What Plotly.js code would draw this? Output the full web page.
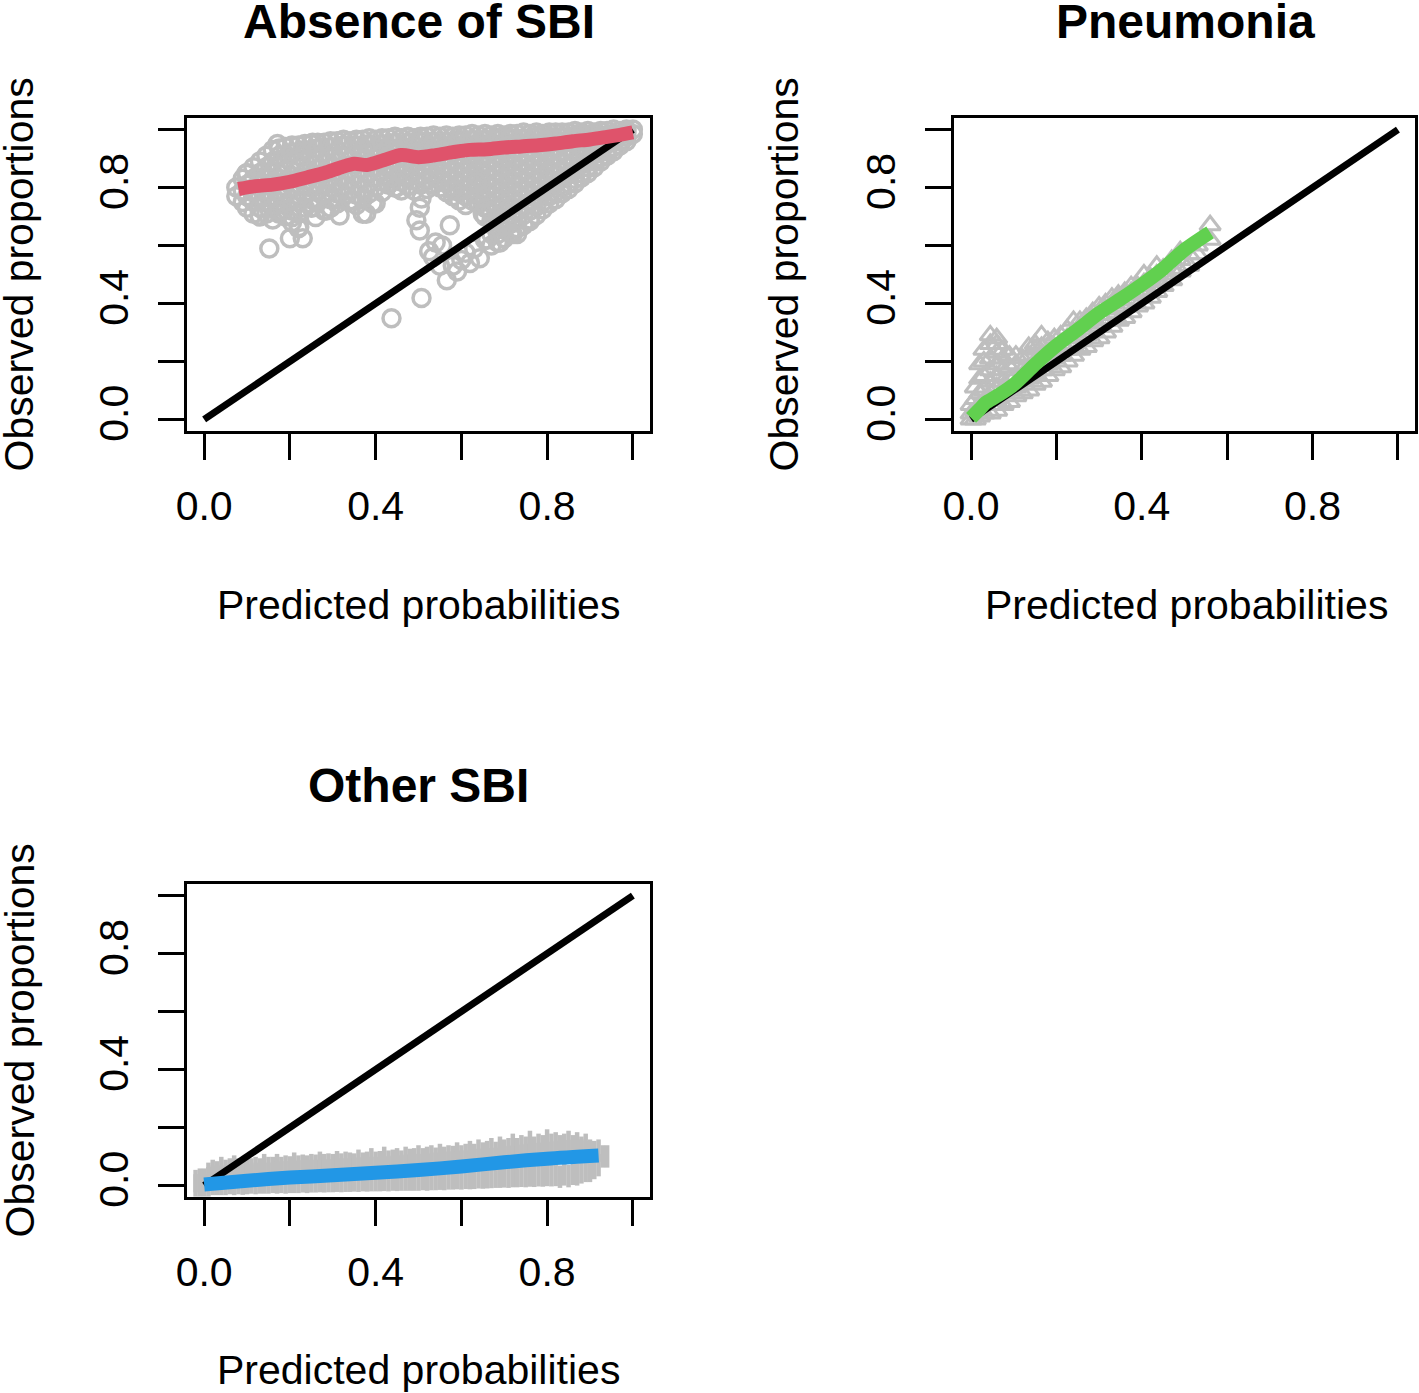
<!DOCTYPE html>
<html>
<head>
<meta charset="utf-8">
<script src="https://cdn.plot.ly/plotly-3.0.1.min.js"></script>
<style>
  html, body { margin: 0; padding: 0; background: #fff; }
  #chart { width: 1419px; height: 1393px; }
</style>
</head>
<body>
<div id="chart"></div>
<script>
// calibration plots: gray = per-sample points, colored = smoothed calibration curve

const TICK_VALS = [0, 0.2, 0.4, 0.6, 0.8, 1.0];
const TICK_TEXT = ['0.0', '', '0.4', '', '0.8', ''];
const DIAG_X = [0, 1];
const DIAG_Y = [0, 1];

// Absence of SBI: gray circles grouped by predicted probability column
const absenceCols = [
  [0.075, [0.80, 0.77]],
  [0.09, [0.83, 0.79, 0.75]],
  [0.10, [0.85, 0.81, 0.77, 0.73]],
  [0.115, [0.87, 0.83, 0.79, 0.75, 0.71]],
  [0.13, [0.89, 0.85, 0.81, 0.77, 0.73, 0.70]],
  [0.145, [0.91, 0.87, 0.83, 0.79, 0.75, 0.71]],
  [0.16, [0.93, 0.89, 0.85, 0.81, 0.77, 0.73, 0.69]],
  [0.175, [0.935, 0.91, 0.87, 0.83, 0.79, 0.75, 0.71]],
  [0.19, [0.94, 0.90, 0.86, 0.82, 0.78, 0.74, 0.70]],
  [0.205, [0.945, 0.92, 0.88, 0.84, 0.80, 0.76, 0.72, 0.68]],
  [0.22, [0.945, 0.91, 0.87, 0.83, 0.79, 0.75, 0.71, 0.66]],
  [0.235, [0.95, 0.93, 0.89, 0.85, 0.81, 0.77, 0.73]],
  [0.25, [0.95, 0.915, 0.88, 0.84, 0.80, 0.76, 0.73]],
  [0.265, [0.955, 0.935, 0.90, 0.865, 0.83, 0.79, 0.75]],
  [0.28, [0.955, 0.92, 0.885, 0.85, 0.81, 0.77, 0.72]],
  [0.295, [0.96, 0.94, 0.905, 0.87, 0.835, 0.80, 0.76, 0.73]],
  [0.31, [0.96, 0.925, 0.89, 0.855, 0.82, 0.78, 0.745]],
  [0.325, [0.965, 0.945, 0.91, 0.875, 0.84, 0.805, 0.77]],
  [0.34, [0.96, 0.93, 0.895, 0.86, 0.825, 0.79, 0.755]],
  [0.355, [0.965, 0.945, 0.915, 0.88, 0.845, 0.81, 0.775, 0.74]],
  [0.37, [0.965, 0.935, 0.90, 0.865, 0.83, 0.795, 0.76, 0.71]],
  [0.385, [0.97, 0.95, 0.92, 0.885, 0.85, 0.815, 0.78]],
  [0.40, [0.965, 0.935, 0.905, 0.87, 0.835, 0.80, 0.745]],
  [0.415, [0.97, 0.95, 0.92, 0.89, 0.855, 0.82, 0.785]],
  [0.43, [0.97, 0.94, 0.91, 0.875, 0.84, 0.81]],
  [0.445, [0.975, 0.955, 0.925, 0.895, 0.86, 0.83, 0.80]],
  [0.46, [0.97, 0.94, 0.91, 0.88, 0.85, 0.82, 0.79]],
  [0.475, [0.975, 0.955, 0.925, 0.895, 0.865, 0.835, 0.805]],
  [0.49, [0.97, 0.945, 0.915, 0.885, 0.855, 0.825, 0.79]],
  [0.505, [0.975, 0.96, 0.93, 0.90, 0.87, 0.84, 0.81]],
  [0.52, [0.975, 0.945, 0.915, 0.885, 0.855, 0.825, 0.795]],
  [0.535, [0.98, 0.96, 0.93, 0.90, 0.87, 0.84, 0.81]],
  [0.55, [0.975, 0.95, 0.92, 0.89, 0.86, 0.83, 0.80]],
  [0.565, [0.98, 0.96, 0.935, 0.905, 0.875, 0.845, 0.815, 0.785]],
  [0.58, [0.975, 0.95, 0.92, 0.89, 0.86, 0.83, 0.80, 0.77]],
  [0.595, [0.98, 0.965, 0.935, 0.905, 0.875, 0.845, 0.815, 0.785, 0.755]],
  [0.61, [0.98, 0.95, 0.92, 0.89, 0.86, 0.83, 0.80, 0.77, 0.74]],
  [0.625, [0.985, 0.965, 0.935, 0.905, 0.875, 0.845, 0.815, 0.785, 0.755]],
  [0.64, [0.98, 0.955, 0.925, 0.895, 0.865, 0.835, 0.805, 0.775, 0.745]],
  [0.655, [0.985, 0.965, 0.94, 0.91, 0.88, 0.85, 0.82, 0.79, 0.76, 0.73, 0.70, 0.62]],
  [0.67, [0.98, 0.955, 0.925, 0.895, 0.865, 0.835, 0.805, 0.775, 0.745, 0.715, 0.685, 0.64, 0.60]],
  [0.685, [0.985, 0.97, 0.94, 0.91, 0.88, 0.85, 0.82, 0.79, 0.76, 0.73, 0.70, 0.67, 0.64, 0.61]],
  [0.70, [0.98, 0.955, 0.925, 0.895, 0.865, 0.835, 0.805, 0.775, 0.745, 0.715, 0.685, 0.655, 0.625]],
  [0.715, [0.985, 0.97, 0.945, 0.915, 0.885, 0.855, 0.825, 0.795, 0.765, 0.735, 0.705, 0.675, 0.645]],
  [0.73, [0.985, 0.96, 0.93, 0.90, 0.87, 0.84, 0.81, 0.78, 0.75, 0.72, 0.69, 0.66, 0.64]],
  [0.745, [0.99, 0.97, 0.945, 0.915, 0.885, 0.855, 0.825, 0.795, 0.765, 0.735, 0.705, 0.67]],
  [0.76, [0.985, 0.96, 0.93, 0.90, 0.87, 0.84, 0.81, 0.78, 0.75, 0.72, 0.685]],
  [0.775, [0.99, 0.975, 0.945, 0.915, 0.885, 0.855, 0.825, 0.795, 0.765, 0.735, 0.705]],
  [0.79, [0.985, 0.96, 0.93, 0.90, 0.87, 0.84, 0.81, 0.78, 0.75, 0.725]],
  [0.805, [0.99, 0.975, 0.95, 0.92, 0.89, 0.86, 0.83, 0.80, 0.77, 0.745]],
  [0.82, [0.99, 0.965, 0.935, 0.905, 0.875, 0.845, 0.815, 0.785, 0.76]],
  [0.835, [0.99, 0.975, 0.95, 0.92, 0.89, 0.86, 0.83, 0.80, 0.78]],
  [0.85, [0.99, 0.965, 0.935, 0.905, 0.875, 0.845, 0.815, 0.795]],
  [0.865, [0.995, 0.98, 0.95, 0.92, 0.89, 0.86, 0.83, 0.815]],
  [0.88, [0.99, 0.97, 0.94, 0.91, 0.88, 0.85, 0.835]],
  [0.895, [0.995, 0.98, 0.955, 0.925, 0.895, 0.87, 0.85]],
  [0.91, [0.99, 0.97, 0.945, 0.915, 0.89, 0.87]],
  [0.925, [0.995, 0.98, 0.96, 0.93, 0.905, 0.89]],
  [0.94, [0.995, 0.975, 0.95, 0.925, 0.91]],
  [0.955, [1.0, 0.985, 0.965, 0.94, 0.925]],
  [0.97, [0.995, 0.98, 0.96, 0.945]],
  [0.985, [1.0, 0.99, 0.975, 0.96]],
  [1.00, [1.0, 0.985]],
];
const absenceStrayX = [0.437, 0.507, 0.152, 0.566, 0.59, 0.62, 0.643, 0.69, 0.72, 0.76, 0.495, 0.503, 0.573, 0.54, 0.534,
  0.507, 0.503, 0.659, 0.667, 0.65, 0.58, 0.636, 0.129, 0.2, 0.23, 0.222, 0.26, 0.316, 0.378, 0.393, 0.347, 0.175, 0.206,
  0.253, 0.285, 0.448, 0.171, 0.253, 0.098, 0.60, 0.61, 0.58, 0.55, 0.63, 0.66, 0.555, 0.525];
const absenceStrayY = [0.349, 0.419, 0.59, 0.48, 0.51, 0.54, 0.556, 0.61, 0.64, 0.69, 0.687, 0.652, 0.67, 0.61, 0.56,
  0.762, 0.73, 0.73, 0.72, 0.71, 0.79, 0.818, 0.704, 0.625, 0.625, 0.664, 0.698, 0.704, 0.71, 0.745, 0.755, 0.72, 0.698,
  0.732, 0.721, 0.80, 0.95, 0.955, 0.848, 0.55, 0.575, 0.53, 0.53, 0.59, 0.62, 0.60, 0.58];
const absenceCurveX = [0.08, 0.12, 0.16, 0.20, 0.24, 0.28, 0.32, 0.35, 0.38, 0.42, 0.46, 0.50, 0.54, 0.58, 0.62, 0.66, 0.70, 0.74, 0.78, 0.82, 0.86, 0.90, 0.94, 0.97, 1.00];
const absenceCurveY = [0.795, 0.805, 0.81, 0.82, 0.835, 0.85, 0.87, 0.882, 0.878, 0.895, 0.912, 0.905, 0.912, 0.922, 0.93, 0.932, 0.938, 0.942, 0.946, 0.952, 0.96, 0.966, 0.975, 0.982, 0.99];

// Pneumonia: gray triangles
const pneuCols = [
  [0.0, [0.0, 0.02, 0.05]],
  [0.01, [0.0, 0.03, 0.07, 0.11]],
  [0.02, [0.01, 0.05, 0.09, 0.14, 0.19]],
  [0.03, [0.02, 0.06, 0.10, 0.15, 0.20, 0.24]],
  [0.045, [0.02, 0.05, 0.09, 0.13, 0.17, 0.21, 0.26, 0.29]],
  [0.06, [0.03, 0.07, 0.11, 0.15, 0.19, 0.23, 0.26, 0.28]],
  [0.075, [0.05, 0.09, 0.13, 0.17, 0.21, 0.24]],
  [0.09, [0.06, 0.10, 0.14, 0.18, 0.22]],
  [0.105, [0.08, 0.11, 0.15, 0.19, 0.22]],
  [0.12, [0.09, 0.13, 0.17, 0.21]],
  [0.135, [0.10, 0.14, 0.18, 0.22, 0.25]],
  [0.15, [0.12, 0.16, 0.20, 0.24, 0.26]],
  [0.165, [0.13, 0.17, 0.21, 0.25, 0.29]],
  [0.18, [0.15, 0.19, 0.23, 0.27]],
  [0.195, [0.17, 0.21, 0.25, 0.28]],
  [0.21, [0.18, 0.22, 0.26, 0.29]],
  [0.225, [0.20, 0.24, 0.28, 0.31]],
  [0.24, [0.22, 0.26, 0.30, 0.34]],
  [0.255, [0.24, 0.28, 0.32, 0.34]],
  [0.27, [0.25, 0.29, 0.33, 0.35]],
  [0.285, [0.27, 0.31, 0.35, 0.37]],
  [0.30, [0.28, 0.32, 0.36, 0.39]],
  [0.315, [0.30, 0.34, 0.38, 0.40]],
  [0.33, [0.32, 0.36, 0.40, 0.42]],
  [0.345, [0.34, 0.38, 0.42, 0.43]],
  [0.36, [0.35, 0.39, 0.43, 0.44]],
  [0.375, [0.37, 0.41, 0.44, 0.46]],
  [0.39, [0.39, 0.43, 0.46]],
  [0.405, [0.40, 0.44, 0.47, 0.50]],
  [0.42, [0.42, 0.46, 0.49]],
  [0.435, [0.44, 0.48, 0.50, 0.53]],
  [0.45, [0.46, 0.50, 0.52]],
  [0.47, [0.48, 0.52, 0.55]],
  [0.49, [0.51, 0.55, 0.58]],
  [0.51, [0.53, 0.57]],
  [0.53, [0.57, 0.60]],
  [0.56, [0.62, 0.67]],
];
const pneuCurveX = [0.0, 0.02, 0.035, 0.06, 0.10, 0.15, 0.20, 0.25, 0.30, 0.35, 0.40, 0.45, 0.50, 0.56];
const pneuCurveY = [0.005, 0.035, 0.058, 0.08, 0.12, 0.19, 0.255, 0.31, 0.367, 0.415, 0.465, 0.52, 0.585, 0.645];

// Other SBI: gray vertical marks
const otherCols = [
  [-0.02, [0.0, 0.015]], [-0.01, [0.0, 0.02]],
  [0.00, [0.0, 0.02]], [0.01, [0.0, 0.025, 0.04]], [0.02, [0.005, 0.03, 0.05]], [0.03, [0.005, 0.03, 0.045]],
  [0.04, [0.005, 0.03, 0.06]], [0.05, [0.005, 0.03, 0.05]], [0.06, [0.008, 0.035, 0.055]], [0.07, [0.005, 0.03, 0.065]],
  [0.08, [0.008, 0.035, 0.055]], [0.09, [0.006, 0.035, 0.05]], [0.10, [0.008, 0.035, 0.06]], [0.11, [0.01, 0.035, 0.055]],
  [0.12, [0.008, 0.04, 0.06]], [0.13, [0.01, 0.04, 0.055]], [0.14, [0.01, 0.04, 0.07]], [0.15, [0.01, 0.04, 0.06]],
  [0.16, [0.012, 0.04, 0.06]], [0.17, [0.01, 0.045, 0.07]], [0.18, [0.012, 0.045, 0.06]], [0.19, [0.01, 0.045, 0.065]],
  [0.20, [0.012, 0.045, 0.062]], [0.21, [0.012, 0.045, 0.075]], [0.22, [0.012, 0.048, 0.065]], [0.23, [0.014, 0.048, 0.068]],
  [0.24, [0.012, 0.048, 0.065]], [0.25, [0.014, 0.05, 0.07]], [0.26, [0.014, 0.05, 0.068]], [0.27, [0.015, 0.05, 0.078]],
  [0.28, [0.014, 0.05, 0.07]], [0.29, [0.015, 0.052, 0.072]], [0.30, [0.015, 0.052, 0.07]], [0.31, [0.016, 0.052, 0.08]],
  [0.32, [0.015, 0.055, 0.072]], [0.33, [0.016, 0.055, 0.078]], [0.34, [0.016, 0.055, 0.075]], [0.35, [0.017, 0.055, 0.072]],
  [0.36, [0.016, 0.058, 0.085]], [0.37, [0.018, 0.058, 0.075]], [0.38, [0.017, 0.058, 0.078]], [0.39, [0.018, 0.06, 0.09]],
  [0.40, [0.018, 0.06, 0.078]], [0.41, [0.018, 0.06, 0.08]], [0.42, [0.019, 0.062, 0.095]], [0.43, [0.018, 0.062, 0.082]],
  [0.44, [0.02, 0.065, 0.085]], [0.45, [0.019, 0.065, 0.09]], [0.46, [0.02, 0.065, 0.082]], [0.47, [0.02, 0.068, 0.095]],
  [0.48, [0.02, 0.068, 0.088]], [0.49, [0.02, 0.07, 0.09]], [0.50, [0.02, 0.07, 0.10]], [0.51, [0.022, 0.07, 0.09]],
  [0.52, [0.02, 0.072, 0.095]], [0.53, [0.022, 0.072, 0.10]], [0.54, [0.022, 0.075, 0.092]], [0.55, [0.023, 0.075, 0.105]],
  [0.56, [0.022, 0.078, 0.095]], [0.57, [0.024, 0.078, 0.10]], [0.58, [0.024, 0.08, 0.098]], [0.59, [0.025, 0.08, 0.11]],
  [0.60, [0.024, 0.082, 0.10]], [0.61, [0.026, 0.082, 0.105]], [0.62, [0.025, 0.085, 0.115]], [0.63, [0.026, 0.085, 0.105]],
  [0.64, [0.028, 0.088, 0.12]], [0.65, [0.027, 0.088, 0.11]], [0.66, [0.028, 0.09, 0.115]], [0.67, [0.029, 0.09, 0.125]],
  [0.68, [0.03, 0.092, 0.112]], [0.69, [0.03, 0.095, 0.13]], [0.70, [0.031, 0.095, 0.12]], [0.71, [0.03, 0.098, 0.125]],
  [0.72, [0.032, 0.10, 0.14]], [0.73, [0.032, 0.10, 0.125]], [0.74, [0.033, 0.102, 0.135]], [0.75, [0.032, 0.105, 0.13]],
  [0.76, [0.034, 0.105, 0.15]], [0.77, [0.033, 0.108, 0.13]], [0.78, [0.035, 0.108, 0.14]], [0.79, [0.034, 0.11, 0.135]],
  [0.80, [0.036, 0.112, 0.155]], [0.81, [0.035, 0.112, 0.14]], [0.82, [0.036, 0.115, 0.145]], [0.83, [0.03, 0.115, 0.135]],
  [0.84, [0.038, 0.118, 0.14]], [0.85, [0.032, 0.118, 0.15]], [0.86, [0.04, 0.12, 0.135]], [0.87, [0.038, 0.12, 0.145]],
  [0.88, [0.045, 0.12, 0.13]], [0.89, [0.05, 0.115, 0.14]], [0.90, [0.05, 0.12]], [0.91, [0.06, 0.115]],
  [0.92, [0.07, 0.12]], [0.93, [0.10]], [0.94, [0.10]],
];
const otherCurveX = [0.0, 0.1, 0.2, 0.3, 0.4, 0.5, 0.6, 0.7, 0.8, 0.92];
const otherCurveY = [0.003, 0.016, 0.027, 0.035, 0.044, 0.053, 0.065, 0.08, 0.092, 0.103];

const GRAY = '#BEBEBE';
const FONT = '"Liberation Sans", Arial, Helvetica, sans-serif';
const W = 1419, H = 1393;

function flatten(cols) {
  const xs = [], ys = [];
  cols.forEach(([x, list]) => list.forEach(y => { xs.push(x); ys.push(y); }));
  return { xs, ys };
}

function panelTraces(n, cloudX, cloudY, symbol, size, lw, curveX, curveY, color) {
  const xa = n === 1 ? 'x' : 'x' + n;
  const ya = n === 1 ? 'y' : 'y' + n;
  return [
    { x: cloudX, y: cloudY, xaxis: xa, yaxis: ya, type: 'scatter', mode: 'markers',
      marker: { symbol, size, color: GRAY, line: { color: GRAY, width: lw } }, hoverinfo: 'skip' },
    { x: DIAG_X, y: DIAG_Y, xaxis: xa, yaxis: ya, type: 'scatter', mode: 'lines',
      line: { color: '#000', width: 7 }, hoverinfo: 'skip' },
    { x: curveX, y: curveY, xaxis: xa, yaxis: ya, type: 'scatter', mode: 'lines',
      line: { color, width: 14, shape: 'spline', smoothing: 0.8 }, hoverinfo: 'skip' },
  ];
}

const abs = flatten(absenceCols);
const pneu = flatten(pneuCols);
const oth = flatten(otherCols);

const traces = [
  ...panelTraces(1, abs.xs.concat(absenceStrayX), abs.ys.concat(absenceStrayY), 'circle-open', 17, 3.5, absenceCurveX, absenceCurveY, '#DF536B'),
  ...panelTraces(2, pneu.xs, pneu.ys, 'triangle-up-open', 18, 3, pneuCurveX, pneuCurveY, '#61D04F'),
  ...panelTraces(3, oth.xs, oth.ys, 'line-ns-open', 16, 4.5, otherCurveX, otherCurveY, '#2297E6'),
];

// pixel box -> paper domain
const dx = (l, r) => [l / W, r / W];
const dy = (t, b) => [1 - b / H, 1 - t / H];

function axX(domain, anchor) {
  return {
    domain, anchor, range: [-0.04, 1.04], tickmode: 'array', tickvals: TICK_VALS, ticktext: TICK_TEXT,
    ticks: 'outside', ticklen: 26, tickwidth: 3, tickcolor: '#000',
    showline: true, mirror: true, linewidth: 3, linecolor: '#000',
    showgrid: false, zeroline: false, ticklabelstandoff: 11,
    tickfont: { family: FONT, size: 41, color: '#000' }, fixedrange: true,
  };
}
function axY(domain, anchor) {
  return { ...axX(domain, anchor), tickangle: -90, ticklabelstandoff: 14 };
}

const px = v => v / W;
const py = v => 1 - v / H;
function note(text, x, y, size, angle) {
  return { text, x: px(x), y: py(y), xref: 'paper', yref: 'paper', showarrow: false,
    xanchor: 'center', yanchor: 'middle', textangle: angle || 0,
    font: { family: FONT, size, color: '#000' } };
}

const layout = {
  width: W, height: H, margin: { l: 0, r: 0, t: 0, b: 0 },
  paper_bgcolor: '#fff', plot_bgcolor: '#fff', showlegend: false,
  xaxis: axX(dx(187, 650), 'y'), yaxis: axY(dy(118, 431), 'x'),
  xaxis2: axX(dx(954, 1415), 'y2'), yaxis2: axY(dy(118, 431), 'x2'),
  xaxis3: axX(dx(187, 650), 'y3'), yaxis3: axY(dy(884, 1197), 'x3'),
  annotations: [
    note('<b>Absence of SBI</b>', 418.5, 22, 48),
    note('<b>Pneumonia</b>', 1185, 22, 48),
    note('<b>Other SBI</b>', 418.5, 785, 48),
    note('Predicted probabilities', 418.5, 605, 41),
    note('Predicted probabilities', 1186, 605, 41),
    note('Predicted probabilities', 418.5, 1370, 41),
    note('Observed proportions', 19, 274.5, 41, -90),
    note('Observed proportions', 784, 274.5, 41, -90),
    note('Observed proportions', 19, 1040.5, 41, -90),
  ],
};

Plotly.newPlot('chart', traces, layout, { displayModeBar: false, staticPlot: true });
</script>
</body>
</html>
